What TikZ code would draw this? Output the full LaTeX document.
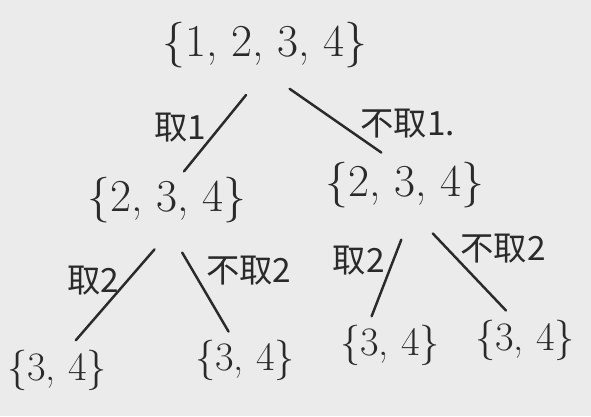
\documentclass[tikz,border=0pt]{standalone}
\usepackage{fontspec}
\newfontfamily\cjk{Noto Sans CJK SC}
\usetikzlibrary{positioning}
\definecolor{ink}{HTML}{2A2A2A}
\definecolor{paper}{HTML}{EBEBEC}
\tikzset{%
	set/.style    = {text=ink, font=\fontsize{26}{30}\selectfont, inner sep=2pt}, % set of numbers
	leaf/.style   = {set, font=\fontsize{23}{27}\selectfont},
	choice/.style = {text=ink, font=\cjk\fontsize{19}{22}\selectfont, inner sep=1pt}, % branch label
	branch/.style = {draw=ink, line width=1.4pt, line cap=round},
}

\begin{document}
\begin{tikzpicture}[x=0.02cm,y=-0.02cm]
	\useasboundingbox[fill=paper] (0,0) rectangle (591,416);
	\node [set] (root) at (265,45) {\{1,\ 2,\ 3,\ 4\}};
	\node [set] (take1) at (167,200) {\{2,\ 3,\ 4\}};
	\node [set] (skip1) at (405,185) {\{2,\ 3,\ 4\}};
	\node [leaf] (tt) at (57,370) {\{3,\ 4\}};
	\node [leaf] (ts) at (245,360) {\{3,\ 4\}};
	\node [leaf] (st) at (390,345) {\{3,\ 4\}};
	\node [leaf] (ss) at (525,340) {\{3,\ 4\}};
	
	\draw[branch,shorten <=0.6cm,shorten >=0.05cm] (root.south) -- node[choice,left=6pt,pos=0.55] (l1) {取1} (take1.60);
	\draw[branch,shorten <=0.6cm,shorten >=0.2cm] (root.south) -- node[choice,right=10pt,pos=0.6] (r1) {不取1.} (skip1.120);
	\draw[branch,shorten <=0.6cm,shorten >=0.15cm] (take1.-75) -- node[choice,left=3pt,pos=0.45] (l2) {取2} (tt.60);
	\draw[branch,shorten <=0.6cm,shorten >=0.1cm] (take1.south) -- node[choice,right=6pt,pos=0.4] (r2) {不取2} (ts.120);
	\draw[branch,shorten <=0.6cm,shorten >=0.1cm] (skip1.-75) -- node[choice,left=3pt,pos=0.45] (l3) {取2} (st.130);
	\draw[branch,shorten <=0.6cm,shorten >=0.15cm] (skip1.-75) -- node[choice,right=6pt,pos=0.35] (r3) {不取2} (ss.120);
\end{tikzpicture}
\end{document}
